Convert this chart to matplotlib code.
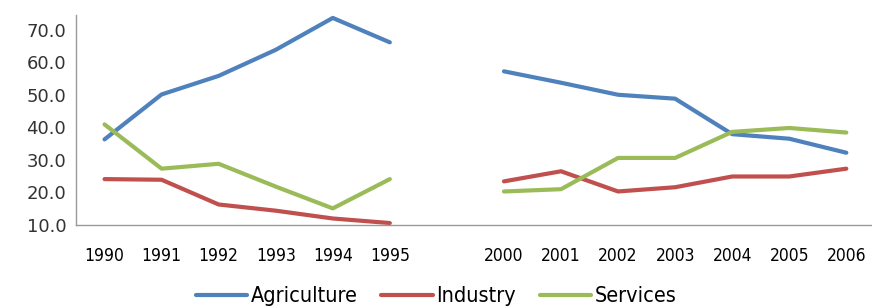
import numpy as np
import matplotlib
matplotlib.use('Agg')
import matplotlib.pyplot as plt

years = ['1990', '1991', '1992', '1993', '1994', '1995', '',
         '2000', '2001', '2002', '2003', '2004', '2005', '2006']
nan = np.nan
agriculture = [36.3, 50.1, 55.8, 63.8, 73.6, 66.1, nan,
               57.2, 53.7, 50.0, 48.8, 37.9, 36.5, 32.2]
industry = [24.1, 23.9, 16.3, 14.4, 12.0, 10.6, nan,
            23.4, 26.5, 20.3, 21.6, 24.9, 24.9, 27.3]
services = [40.9, 27.3, 28.8, 21.8, 15.1, 24.1, nan,
            20.3, 21.0, 30.6, 30.6, 38.6, 39.8, 38.4]

colors = ['#4F81BD', '#C0504D', '#9BBB59']
names = ['Agriculture', 'Industry', 'Services']

plt.rcParams['font.family'] = ['DejaVu Sans']
plt.rcParams['font.stretch'] = 'condensed'

fig = plt.figure(figsize=(8.72, 3.07), dpi=100)
ax = fig.add_axes([76/872, 1 - 225/307, 796/872, 210/307])

x = np.arange(len(years))
for vals, c, n in zip([agriculture, industry, services], colors, names):
	ax.plot(x, vals, color=c, lw=3, label=n, solid_capstyle='round')

ax.set_xlim(-0.5, 13.45)
ax.set_ylim(10, 74.5)
ax.set_yticks([10, 20, 30, 40, 50, 60, 70])
ax.set_yticklabels(['%.1f' % v for v in [10, 20, 30, 40, 50, 60, 70]],
                   fontsize=13, color='#333333', fontstretch='normal')
ax.set_xticks(x)
ax.set_xticklabels(years, fontsize=12.5)
ax.tick_params(axis='x', length=0, pad=16)
ax.tick_params(axis='y', length=0, pad=7)

for s in ['top', 'right']:
	ax.spines[s].set_visible(False)
for s in ['left', 'bottom']:
	ax.spines[s].set_color('#999999')
	ax.spines[s].set_linewidth(1)

fig.legend(loc='lower center', bbox_to_anchor=(0.5, -0.06), ncol=3, frameon=False,
           fontsize=15.5, handlelength=2.4, handletextpad=0.15, columnspacing=1.1)

fig.savefig('out.png', dpi=100)
